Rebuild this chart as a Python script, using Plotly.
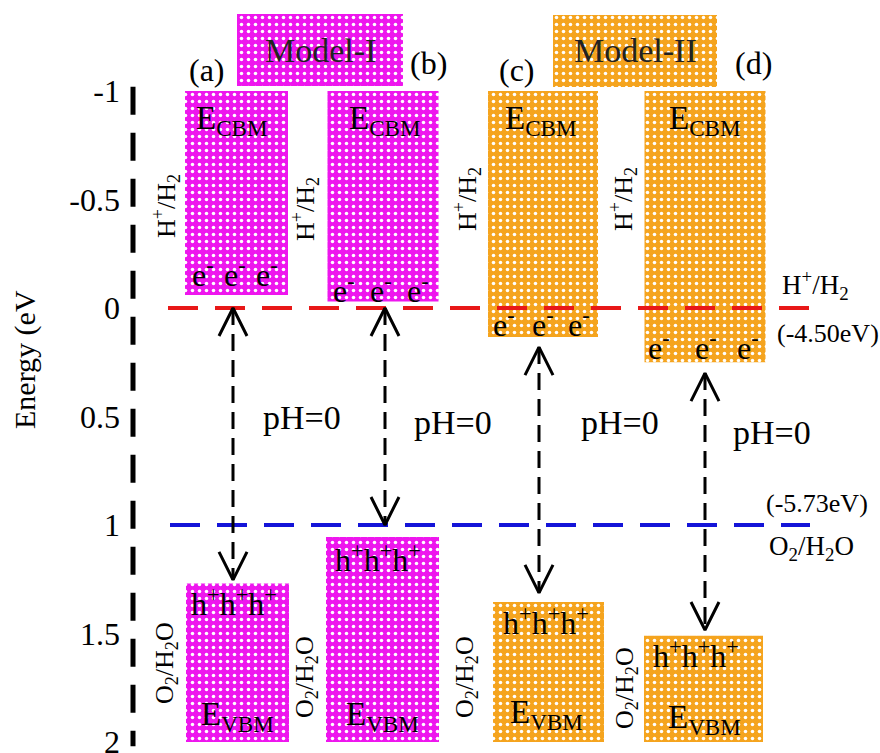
import plotly.graph_objects as go

# ---------------- data ----------------
panel_labels = ["(a)", "(b)", "(c)", "(d)"]
model_names = ["Model-I", "Model-II"]
cbm_values = [-0.06, -0.03, 0.134, 0.25]      # conduction band minimum (bottom of upper box)
vbm_values = [1.27, 1.055, 1.355, 1.51]       # valence band maximum (top of lower box)
band_top = [-1.0, -1.0, -1.0, -1.0]
band_bottom = [2.0, 2.0, 2.0, 2.0]
redox_levels = [0.0, 1.0]                      # H+/H2 , O2/H2O
redox_abs = ["(-4.50eV)", "(-5.73eV)"]
arrow_start = [0.0, 0.0, 0.18, 0.30]
arrow_end = [1.253, 1.0, 1.313, 1.484]
model_box_top = [-1.355, -1.35]
model_box_bottom = [-1.023, -1.018]
tick_vals = [-1, -0.5, 0, 0.5, 1, 1.5, 2]
tick_text = ["-1", "-0.5", "0", "0.5", "1", "1.5", "2"]

# ---------------- layout constants ----------------
W, H = 880, 753
Y0PX, PXU = 308, 217.0        # pixel of energy 0, pixels per eV


def yv(py):
    return (py - Y0PX) / PXU


MAG = "#EE16EE"
ORA = "#F5A41E"
FONT = "Liberation Serif"

cbm_x = [236.5, 383.0, 543.0, 705.0]
cbm_w = [103, 111, 110, 121]
vbm_x = [237.5, 382.5, 548.5, 703.5]
vbm_w = [103, 113, 111, 119]
model_x = [320.0, 635.0]
model_w = [166, 164]
arrow_x = [233, 385, 539, 705]
colors = [MAG, MAG, ORA, ORA]
model_colors = [MAG, ORA]

fig = go.Figure()


def pattern(c):
    return dict(color=c, line=dict(width=0),
                pattern=dict(shape=".", fillmode="replace", bgcolor=c,
                             fgcolor="white", size=7, solidity=0.2))


for col in [MAG, ORA]:
    xs, ws, bs, hs = [], [], [], []
    for i in range(4):
        if colors[i] != col:
            continue
        xs += [cbm_x[i], vbm_x[i]]
        ws += [cbm_w[i], vbm_w[i]]
        bs += [band_top[i], vbm_values[i]]
        hs += [cbm_values[i] - band_top[i], band_bottom[i] - vbm_values[i]]
    for j in range(2):
        if model_colors[j] == col:
            xs.append(model_x[j]); ws.append(model_w[j])
            bs.append(model_box_top[j]); hs.append(model_box_bottom[j] - model_box_top[j])
    fig.add_trace(go.Bar(x=xs, y=hs, base=bs, width=ws, marker=pattern(col),
                         showlegend=False, hoverinfo="skip"))

# redox level lines
fig.add_trace(go.Scatter(x=[168, 810], y=[redox_levels[0]] * 2, mode="lines",
                         line=dict(color="#E81818", width=4, dash="30px,17px"),
                         showlegend=False, hoverinfo="skip"))
fig.add_trace(go.Scatter(x=[170, 810], y=[redox_levels[1]] * 2, mode="lines",
                         line=dict(color="#1414D8", width=4, dash="30px,17px"),
                         showlegend=False, hoverinfo="skip"))

# dashed vertical axis line
fig.add_trace(go.Scatter(x=[133, 133], y=[-1.02, 2.02], mode="lines",
                         line=dict(color="black", width=5, dash="28px,18px"),
                         showlegend=False, hoverinfo="skip"))

# arrows
for i in range(4):
    fig.add_trace(go.Scatter(x=[arrow_x[i]] * 2, y=[arrow_start[i], arrow_end[i]],
                             mode="lines",
                             line=dict(color="black", width=3, dash="17px,9px"),
                             showlegend=False, hoverinfo="skip"))
hx, hy = [], []
AW, AH = 14, 28 / PXU
for i in range(4):
    x = arrow_x[i]
    s, e = arrow_start[i], arrow_end[i]
    hx += [x - AW, x, x + AW, None, x - AW, x, x + AW, None]
    hy += [s + AH, s, s + AH, None, e - AH, e, e - AH, None]
fig.add_trace(go.Scatter(x=hx, y=hy, mode="lines",
                         line=dict(color="black", width=3),
                         showlegend=False, hoverinfo="skip"))

ann = []


def T(x, py, text, size, angle=0, color="black", xanchor="center"):
    ann.append(dict(x=x, y=yv(py), text=text, showarrow=False, textangle=angle,
                    font=dict(family=FONT, size=size, color=color),
                    xanchor=xanchor, yanchor="middle", borderpad=0))


# panel labels
for lab, x, py in zip(panel_labels, [207, 428, 517, 753], [70, 63, 70, 63]):
    T(x, py, lab, 32)
for name, x in zip(model_names, model_x):
    T(x, 50, name, 34, color="#222222")

# band labels
ecbm_pos = [(232, 120), (385, 120), (541, 120), (705, 120)]
e_left = [[191, 223, 255], [332, 369, 406], [492, 531, 567], [647, 694, 736]]
e_py = [273, 289, 323, 346]
h_pos = [(234, 602), (378, 558), (546, 621), (696, 654)]
evbm_pos = [(237, 716), (382, 716), (546, 714), (704, 719)]
for i in range(4):
    T(ecbm_pos[i][0], ecbm_pos[i][1], "E<sub>CBM</sub>", 33)
    for xl in e_left[i]:
        T(xl, e_py[i], "e<sup>-</sup>", 32, xanchor="left")
    T(h_pos[i][0], h_pos[i][1], "h<sup>+</sup>h<sup>+</sup>h<sup>+</sup>", 32)
    T(evbm_pos[i][0], evbm_pos[i][1], "E<sub>VBM</sub>", 33)

# rotated redox labels
for x, py in [(166, 206), (305, 209), (467, 199), (623, 199)]:
    T(x, py, "H<sup>+</sup>/H<sub>2</sub>", 26, angle=-90)
for x, py in [(166, 663), (306, 677), (466, 677), (626, 688)]:
    T(x, py, "O<sub>2</sub>/H<sub>2</sub>O", 26, angle=-90)

# pH labels
for x, py in [(302, 417), (453, 422), (620, 422), (772, 432)]:
    T(x, py, "pH=0", 34)

# right-side labels
T(815, 285, "H<sup>+</sup>/H<sub>2</sub>", 27)
T(828, 333, redox_abs[0], 26)
T(817, 503, redox_abs[1], 26)
T(811, 548, "O<sub>2</sub>/H<sub>2</sub>O", 27)

# y title
T(25, 360, "Energy (eV", 30, angle=-90)

fig.update_layout(
    width=W, height=H, margin=dict(l=0, r=0, t=0, b=0),
    paper_bgcolor="white", plot_bgcolor="white",
    barmode="overlay", showlegend=False,
    annotations=ann,
    xaxis=dict(range=[0, W], visible=False, fixedrange=True),
    yaxis=dict(range=[yv(H), yv(0)], anchor="free", position=133 / W,
               tickvals=tick_vals, ticktext=tick_text, showgrid=False,
               zeroline=False, showline=False, ticks="", ticklabelstandoff=13,
               ticklabeloverflow="allow",
               tickfont=dict(family=FONT, size=32, color="black"),
               automargin=False),
)

fig.write_html("out.html")
